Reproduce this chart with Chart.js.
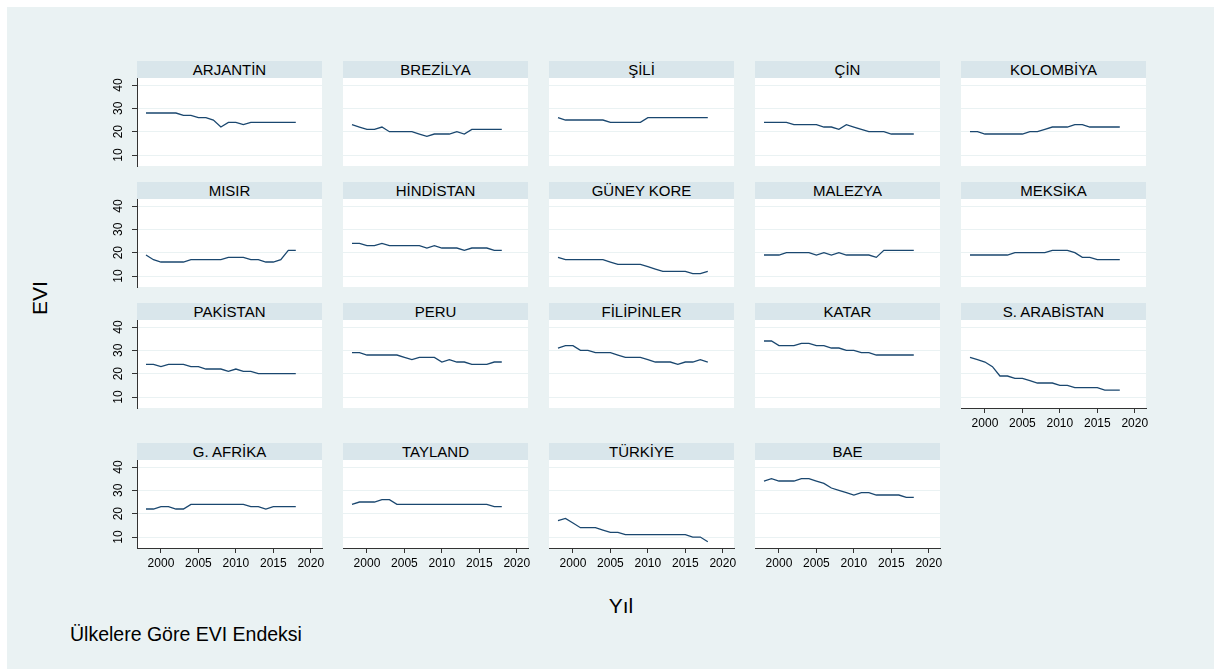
<!DOCTYPE html>
<html>
<head>
<meta charset="utf-8">
<script src="https://cdn.jsdelivr.net/npm/chart.js@4.4.0/dist/chart.umd.min.js"></script>
<style>
    body { margin: 0; background: #fff; font-family: "Liberation Sans", Arial, sans-serif; }
    #graph { position: absolute; left: 7px; top: 7px; width: 1207px; height: 662px; background: #eaf2f3; }
    .strip { position: absolute; width: 185px; height: 17px; background: #d9e6eb; color: #000;
             text-align: center; font-size: 15px; line-height: 17px; white-space: nowrap; }
    canvas { position: absolute; }
    .label { position: absolute; color: #000; white-space: nowrap; }
</style>
</head>
<body>
<div id="graph"></div>
<div class="label" style="left:40px; top:298px; font-size:21px; transform:translate(-50%,-50%) rotate(-90deg);">EVI</div>
<div class="label" style="left:621px; top:606px; font-size:21px; transform:translate(-50%,-50%);">Yıl</div>
<div class="label" style="left:70px; top:634px; font-size:19.5px; transform:translate(0,-50%);">Ülkelere Göre EVI Endeksi</div>
<script>
    const years = [1998, 1999, 2000, 2001, 2002, 2003, 2004, 2005, 2006, 2007, 2008,
                   2009, 2010, 2011, 2012, 2013, 2014, 2015, 2016, 2017, 2018];
    const xTicks = [2000, 2005, 2010, 2015, 2020];
    const yTicks = [10, 20, 30, 40];

    const arjantin   = [28,28,28,28,28,27,27,26,26,25,22,24,24,23,24,24,24,24,24,24,24];
    const brezilya   = [23,22,21,21,22,20,20,20,20,19,18,19,19,19,20,19,21,21,21,21,21];
    const sili       = [26,25,25,25,25,25,25,24,24,24,24,24,26,26,26,26,26,26,26,26,26];
    const cin        = [24,24,24,24,23,23,23,23,22,22,21,23,22,21,20,20,20,19,19,19,19];
    const kolombiya  = [20,20,19,19,19,19,19,19,20,20,21,22,22,22,23,23,22,22,22,22,22];
    const misir      = [19,17,16,16,16,16,17,17,17,17,17,18,18,18,17,17,16,16,17,21,21];
    const hindistan  = [24,24,23,23,24,23,23,23,23,23,22,23,22,22,22,21,22,22,22,21,21];
    const guneyKore  = [18,17,17,17,17,17,17,16,15,15,15,15,14,13,12,12,12,12,11,11,12];
    const malezya    = [19,19,19,20,20,20,20,19,20,19,20,19,19,19,19,18,21,21,21,21,21];
    const meksika    = [19,19,19,19,19,19,20,20,20,20,20,21,21,21,20,18,18,17,17,17,17];
    const pakistan   = [24,24,23,24,24,24,23,23,22,22,22,21,22,21,21,20,20,20,20,20,20];
    const peru       = [29,29,28,28,28,28,28,27,26,27,27,27,25,26,25,25,24,24,24,25,25];
    const filipinler = [31,32,32,30,30,29,29,29,28,27,27,27,26,25,25,25,24,25,25,26,25];
    const katar      = [34,34,32,32,32,33,33,32,32,31,31,30,30,29,29,28,28,28,28,28,28];
    const sArabistan = [27,26,25,23,19,19,18,18,17,16,16,16,15,15,14,14,14,14,13,13,13];
    const gAfrika    = [22,22,23,23,22,22,24,24,24,24,24,24,24,24,23,23,22,23,23,23,23];
    const tayland    = [24,25,25,25,26,26,24,24,24,24,24,24,24,24,24,24,24,24,24,23,23];
    const turkiye    = [17,18,16,14,14,14,13,12,12,11,11,11,11,11,11,11,11,11,10,10,8];
    const bae        = [34,35,34,34,34,35,35,34,33,31,30,29,28,29,29,28,28,28,28,27,27];

    const panelNames = ["ARJANTİN", "BREZİLYA", "ŞİLİ", "ÇİN", "KOLOMBİYA",
                        "MISIR", "HİNDİSTAN", "GÜNEY KORE", "MALEZYA", "MEKSİKA",
                        "PAKİSTAN", "PERU", "FİLİPİNLER", "KATAR", "S. ARABİSTAN",
                        "G. AFRİKA", "TAYLAND", "TÜRKİYE", "BAE"];
    const panelSeries = [arjantin, brezilya, sili, cin, kolombiya,
                         misir, hindistan, guneyKore, malezya, meksika,
                         pakistan, peru, filipinler, katar, sArabistan,
                         gAfrika, tayland, turkiye, bae];

    // panel geometry (page pixels)
    const colLeft = [137, 343, 549, 755, 961];
    const rowTop = [61, 182, 303, 443];
    const PW = 185, PH = 88, HEAD = 17, PAD = 12, YAXIS = 30, XAXIS = 24;
    const FONT = '"Liberation Sans", Arial, sans-serif';

    Chart.defaults.font.family = FONT;
    Chart.defaults.color = '#000';

    // white plot region
    const plotBg = {
        id: 'plotBg',
        beforeDraw(chart) {
            const a = chart.chartArea;
            chart.ctx.save();
            chart.ctx.fillStyle = '#fff';
            chart.ctx.fillRect(a.left, a.top, a.right - a.left, a.bottom - a.top);
            chart.ctx.restore();
        }
    };

    // vertical (rotated) y tick labels, Stata style
    const yLabels = {
        id: 'yLabels',
        afterDraw(chart, args, opts) {
            if (!opts.show) return;
            const s = chart.scales.y;
            const ctx = chart.ctx;
            ctx.save();
            ctx.font = '12px ' + FONT;
            ctx.fillStyle = '#000';
            ctx.textAlign = 'center';
            ctx.textBaseline = 'middle';
            s.ticks.forEach(t => {
                ctx.save();
                ctx.translate(s.right - 18, s.getPixelForValue(t.value));
                ctx.rotate(-Math.PI / 2);
                ctx.fillText(String(t.value), 0, 0);
                ctx.restore();
            });
            ctx.restore();
        }
    };

    panelNames.forEach((name, i) => {
        const row = Math.floor(i / 5), col = i % 5;
        const showX = row === 3 || i === 14;
        const showY = col === 0;
        const plotLeft = colLeft[col];
        const plotTop = rowTop[row] + HEAD;

        // strip header
        const strip = document.createElement("div");
        strip.className = "strip";
        strip.style.left = plotLeft + "px";
        strip.style.top = rowTop[row] + "px";
        strip.textContent = name;
        document.body.appendChild(strip);

        const yw = showY ? YAXIS : 0;
        const xh = showX ? XAXIS : 0;
        const canvas = document.createElement("canvas");
        canvas.width = PAD + yw + PW + PAD;
        canvas.height = PAD + PH + xh + PAD;
        canvas.style.left = (plotLeft - yw - PAD) + "px";
        canvas.style.top = (plotTop - PAD) + "px";
        document.body.appendChild(canvas);

        new Chart(canvas, {
            type: 'line',
            data: {
                datasets: [{
                    label: name,
                    data: years.map((yr, k) => ({ x: yr, y: panelSeries[i][k] })),
                    borderColor: '#1a476f',
                    borderWidth: 1.3,
                    pointRadius: 0,
                    tension: 0,
                    fill: false
                }]
            },
            options: {
                responsive: false,
                animation: false,
                events: [],
                layout: { padding: PAD },
                plugins: {
                    legend: { display: false },
                    tooltip: { enabled: false },
                    yLabels: { show: showY }
                },
                scales: {
                    x: {
                        type: 'linear',
                        min: 1996.8,
                        max: 2021.5,
                        display: showX,
                        afterBuildTicks: s => { s.ticks = xTicks.map(v => ({ value: v })); },
                        afterFit: s => { s.height = xh; },
                        grid: { drawOnChartArea: false, drawTicks: true, tickLength: 5, tickColor: '#333', lineWidth: 1 },
                        border: { display: true, color: '#333', width: 1 },
                        ticks: { font: { size: 12 }, padding: 3, maxRotation: 0, autoSkip: false, callback: v => String(v) }
                    },
                    y: {
                        type: 'linear',
                        min: 5.3,
                        max: 43,
                        afterBuildTicks: s => { s.ticks = yTicks.map(v => ({ value: v })); },
                        afterFit: s => { s.width = yw; },
                        grid: { color: '#eaf2f3', lineWidth: 1, drawTicks: showY, tickLength: 5, tickColor: '#333' },
                        border: { display: showY, color: '#333', width: 1 },
                        ticks: { display: false }
                    }
                }
            },
            plugins: [plotBg, yLabels]
        });
    });
</script>
</body>
</html>
